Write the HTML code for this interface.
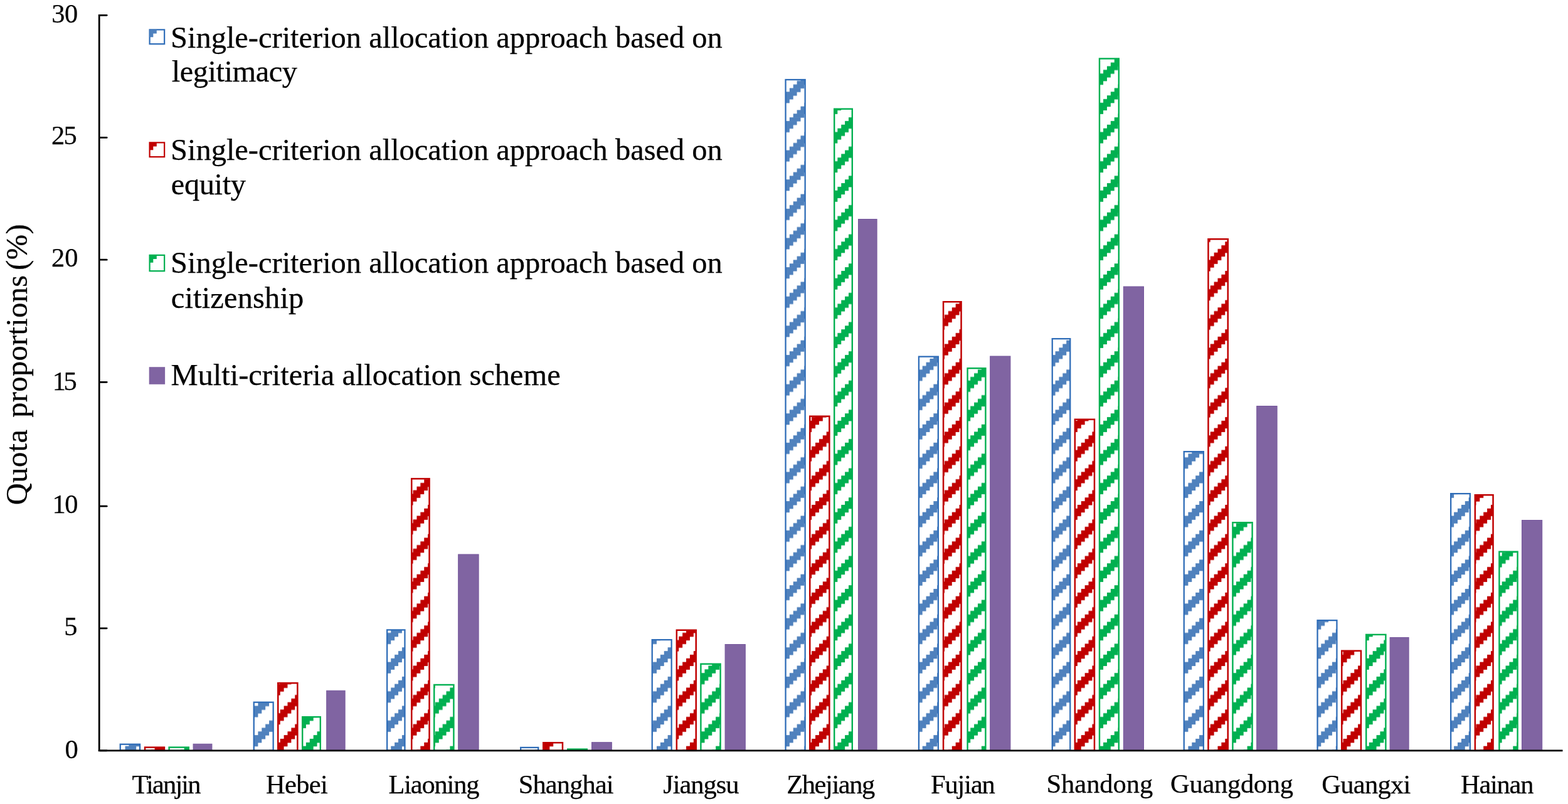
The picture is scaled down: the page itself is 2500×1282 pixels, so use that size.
<!DOCTYPE html><html><head><meta charset="utf-8"><title>Quota proportions</title>
<style>html,body{margin:0;padding:0;background:#fff}svg{display:block}text{font-family:"Liberation Serif",serif;fill:#000;stroke:#000;stroke-width:0.25px}</style></head><body>
<svg width="2500" height="1282" viewBox="0 0 2500 1282">
<defs>
<pattern id="pb" patternUnits="userSpaceOnUse" x="17.1" y="24.2" width="47.08" height="46.63"><rect width="47.08" height="46.63" fill="#fff"/><rect x="0.00" y="-6.13" width="17.66" height="6.43" fill="#4F81BD"/><rect x="47.08" y="-6.13" width="17.66" height="6.43" fill="#4F81BD"/><rect x="-5.88" y="-0.30" width="17.66" height="6.43" fill="#4F81BD"/><rect x="41.20" y="-0.30" width="17.66" height="6.43" fill="#4F81BD"/><rect x="-11.77" y="5.53" width="17.66" height="6.43" fill="#4F81BD"/><rect x="35.31" y="5.53" width="17.66" height="6.43" fill="#4F81BD"/><rect x="-17.66" y="11.36" width="17.66" height="6.43" fill="#4F81BD"/><rect x="29.42" y="11.36" width="17.66" height="6.43" fill="#4F81BD"/><rect x="23.54" y="17.19" width="17.66" height="6.43" fill="#4F81BD"/><rect x="17.66" y="23.02" width="17.66" height="6.43" fill="#4F81BD"/><rect x="11.77" y="28.84" width="17.66" height="6.43" fill="#4F81BD"/><rect x="5.88" y="34.67" width="17.66" height="6.43" fill="#4F81BD"/><rect x="0.00" y="40.50" width="17.66" height="6.43" fill="#4F81BD"/><rect x="47.08" y="40.50" width="17.66" height="6.43" fill="#4F81BD"/><rect x="-5.88" y="46.33" width="17.66" height="6.43" fill="#4F81BD"/><rect x="41.20" y="46.33" width="17.66" height="6.43" fill="#4F81BD"/></pattern>
<pattern id="pr" patternUnits="userSpaceOnUse" x="17.1" y="24.2" width="47.08" height="46.63"><rect width="47.08" height="46.63" fill="#fff"/><rect x="0.00" y="-6.13" width="17.66" height="6.43" fill="#C00000"/><rect x="47.08" y="-6.13" width="17.66" height="6.43" fill="#C00000"/><rect x="-5.88" y="-0.30" width="17.66" height="6.43" fill="#C00000"/><rect x="41.20" y="-0.30" width="17.66" height="6.43" fill="#C00000"/><rect x="-11.77" y="5.53" width="17.66" height="6.43" fill="#C00000"/><rect x="35.31" y="5.53" width="17.66" height="6.43" fill="#C00000"/><rect x="-17.66" y="11.36" width="17.66" height="6.43" fill="#C00000"/><rect x="29.42" y="11.36" width="17.66" height="6.43" fill="#C00000"/><rect x="23.54" y="17.19" width="17.66" height="6.43" fill="#C00000"/><rect x="17.66" y="23.02" width="17.66" height="6.43" fill="#C00000"/><rect x="11.77" y="28.84" width="17.66" height="6.43" fill="#C00000"/><rect x="5.88" y="34.67" width="17.66" height="6.43" fill="#C00000"/><rect x="0.00" y="40.50" width="17.66" height="6.43" fill="#C00000"/><rect x="47.08" y="40.50" width="17.66" height="6.43" fill="#C00000"/><rect x="-5.88" y="46.33" width="17.66" height="6.43" fill="#C00000"/><rect x="41.20" y="46.33" width="17.66" height="6.43" fill="#C00000"/></pattern>
<pattern id="pg" patternUnits="userSpaceOnUse" x="17.1" y="24.2" width="47.08" height="46.63"><rect width="47.08" height="46.63" fill="#fff"/><rect x="0.00" y="-6.13" width="17.66" height="6.43" fill="#00B050"/><rect x="47.08" y="-6.13" width="17.66" height="6.43" fill="#00B050"/><rect x="-5.88" y="-0.30" width="17.66" height="6.43" fill="#00B050"/><rect x="41.20" y="-0.30" width="17.66" height="6.43" fill="#00B050"/><rect x="-11.77" y="5.53" width="17.66" height="6.43" fill="#00B050"/><rect x="35.31" y="5.53" width="17.66" height="6.43" fill="#00B050"/><rect x="-17.66" y="11.36" width="17.66" height="6.43" fill="#00B050"/><rect x="29.42" y="11.36" width="17.66" height="6.43" fill="#00B050"/><rect x="23.54" y="17.19" width="17.66" height="6.43" fill="#00B050"/><rect x="17.66" y="23.02" width="17.66" height="6.43" fill="#00B050"/><rect x="11.77" y="28.84" width="17.66" height="6.43" fill="#00B050"/><rect x="5.88" y="34.67" width="17.66" height="6.43" fill="#00B050"/><rect x="0.00" y="40.50" width="17.66" height="6.43" fill="#00B050"/><rect x="47.08" y="40.50" width="17.66" height="6.43" fill="#00B050"/><rect x="-5.88" y="46.33" width="17.66" height="6.43" fill="#00B050"/><rect x="41.20" y="46.33" width="17.66" height="6.43" fill="#00B050"/></pattern>
</defs>
<rect width="2500" height="1282" fill="#fff"/>
<rect x="191.75" y="1186.75" width="31.30" height="10.05" fill="url(#pb)" stroke="#2F6DB8" stroke-width="2.3"/>
<rect x="231.05" y="1191.65" width="30.90" height="5.15" fill="url(#pr)" stroke="#C00000" stroke-width="2.5"/>
<rect x="269.60" y="1191.60" width="31.20" height="5.20" fill="url(#pg)" stroke="#00B050" stroke-width="2.4"/>
<rect x="308.10" y="1186.30" width="29.80" height="10.50" fill="#8064A2" stroke="#75569C" stroke-width="1.0"/>
<rect x="404.75" y="1119.75" width="30.90" height="77.05" fill="url(#pb)" stroke="#2F6DB8" stroke-width="2.3"/>
<rect x="443.25" y="1089.15" width="31.10" height="107.65" fill="url(#pr)" stroke="#C00000" stroke-width="2.5"/>
<rect x="482.20" y="1143.20" width="28.60" height="53.60" fill="url(#pg)" stroke="#00B050" stroke-width="2.4"/>
<rect x="520.70" y="1101.30" width="29.40" height="95.50" fill="#8064A2" stroke="#75569C" stroke-width="1.0"/>
<rect x="617.15" y="1004.40" width="28.30" height="192.40" fill="url(#pb)" stroke="#2F6DB8" stroke-width="2.3"/>
<rect x="656.25" y="763.35" width="28.30" height="433.45" fill="url(#pr)" stroke="#C00000" stroke-width="2.5"/>
<rect x="692.20" y="1091.95" width="31.20" height="104.85" fill="url(#pg)" stroke="#00B050" stroke-width="2.4"/>
<rect x="730.70" y="884.00" width="32.40" height="312.80" fill="#8064A2" stroke="#75569C" stroke-width="1.0"/>
<rect x="830.15" y="1191.95" width="28.10" height="4.85" fill="url(#pb)" stroke="#2F6DB8" stroke-width="2.3"/>
<rect x="866.25" y="1184.25" width="30.70" height="12.55" fill="url(#pr)" stroke="#C00000" stroke-width="2.5"/>
<rect x="905.20" y="1194.60" width="30.60" height="2.20" fill="url(#pg)" stroke="#00B050" stroke-width="2.4"/>
<rect x="943.50" y="1183.70" width="31.80" height="13.10" fill="#8064A2" stroke="#75569C" stroke-width="1.0"/>
<rect x="1039.75" y="1020.15" width="30.90" height="176.65" fill="url(#pb)" stroke="#2F6DB8" stroke-width="2.3"/>
<rect x="1078.85" y="1004.75" width="30.90" height="192.05" fill="url(#pr)" stroke="#C00000" stroke-width="2.5"/>
<rect x="1117.40" y="1058.70" width="31.20" height="138.10" fill="url(#pg)" stroke="#00B050" stroke-width="2.4"/>
<rect x="1156.10" y="1027.50" width="32.20" height="169.30" fill="#8064A2" stroke="#75569C" stroke-width="1.0"/>
<rect x="1252.55" y="127.05" width="31.10" height="1069.75" fill="url(#pb)" stroke="#2F6DB8" stroke-width="2.3"/>
<rect x="1291.25" y="663.75" width="31.10" height="533.05" fill="url(#pr)" stroke="#C00000" stroke-width="2.5"/>
<rect x="1330.20" y="173.70" width="28.60" height="1023.10" fill="url(#pg)" stroke="#00B050" stroke-width="2.4"/>
<rect x="1368.50" y="349.50" width="29.60" height="847.30" fill="#8064A2" stroke="#75569C" stroke-width="1.0"/>
<rect x="1464.95" y="568.65" width="30.90" height="628.15" fill="url(#pb)" stroke="#2F6DB8" stroke-width="2.3"/>
<rect x="1504.05" y="481.25" width="28.50" height="715.55" fill="url(#pr)" stroke="#C00000" stroke-width="2.5"/>
<rect x="1542.60" y="587.20" width="28.80" height="609.60" fill="url(#pg)" stroke="#00B050" stroke-width="2.4"/>
<rect x="1578.70" y="568.00" width="32.20" height="628.80" fill="#8064A2" stroke="#75569C" stroke-width="1.0"/>
<rect x="1677.75" y="540.15" width="28.50" height="656.65" fill="url(#pb)" stroke="#2F6DB8" stroke-width="2.3"/>
<rect x="1713.85" y="668.75" width="31.10" height="528.05" fill="url(#pr)" stroke="#C00000" stroke-width="2.5"/>
<rect x="1753.00" y="93.50" width="30.80" height="1103.30" fill="url(#pg)" stroke="#00B050" stroke-width="2.4"/>
<rect x="1791.30" y="457.00" width="32.20" height="739.80" fill="#8064A2" stroke="#75569C" stroke-width="1.0"/>
<rect x="1887.75" y="720.15" width="31.10" height="476.65" fill="url(#pb)" stroke="#2F6DB8" stroke-width="2.3"/>
<rect x="1926.45" y="381.25" width="31.30" height="815.55" fill="url(#pr)" stroke="#C00000" stroke-width="2.5"/>
<rect x="1965.40" y="833.20" width="31.20" height="363.60" fill="url(#pg)" stroke="#00B050" stroke-width="2.4"/>
<rect x="2003.70" y="647.50" width="32.40" height="549.30" fill="#8064A2" stroke="#75569C" stroke-width="1.0"/>
<rect x="2100.55" y="989.15" width="30.90" height="207.65" fill="url(#pb)" stroke="#2F6DB8" stroke-width="2.3"/>
<rect x="2139.25" y="1037.75" width="30.70" height="159.05" fill="url(#pr)" stroke="#C00000" stroke-width="2.5"/>
<rect x="2178.20" y="1011.90" width="31.20" height="184.90" fill="url(#pg)" stroke="#00B050" stroke-width="2.4"/>
<rect x="2216.10" y="1016.50" width="30.00" height="180.30" fill="#8064A2" stroke="#75569C" stroke-width="1.0"/>
<rect x="2313.15" y="787.15" width="30.70" height="409.65" fill="url(#pb)" stroke="#2F6DB8" stroke-width="2.3"/>
<rect x="2351.85" y="789.25" width="28.70" height="407.55" fill="url(#pr)" stroke="#C00000" stroke-width="2.5"/>
<rect x="2390.40" y="879.70" width="29.20" height="317.10" fill="url(#pg)" stroke="#00B050" stroke-width="2.4"/>
<rect x="2426.50" y="829.50" width="32.20" height="367.30" fill="#8064A2" stroke="#75569C" stroke-width="1.0"/>
<path d="M158.2 23.0V1198.1" stroke="#000" stroke-width="2.8" fill="none"/>
<path d="M156.79999999999998 1196.8H2491.5" stroke="#000" stroke-width="2.8" fill="none"/>
<path d="M159.2 24.30H170.2" stroke="#000" stroke-width="2.8" stroke-linecap="round" fill="none"/>
<path d="M159.2 219.40H170.2" stroke="#000" stroke-width="2.8" stroke-linecap="round" fill="none"/>
<path d="M159.2 414.20H170.2" stroke="#000" stroke-width="2.8" stroke-linecap="round" fill="none"/>
<path d="M159.2 609.30H170.2" stroke="#000" stroke-width="2.8" stroke-linecap="round" fill="none"/>
<path d="M159.2 807.20H170.2" stroke="#000" stroke-width="2.8" stroke-linecap="round" fill="none"/>
<path d="M159.2 1001.80H170.2" stroke="#000" stroke-width="2.8" stroke-linecap="round" fill="none"/>
<path d="M159.2 1196.80H170.2" stroke="#000" stroke-width="2.8" stroke-linecap="round" fill="none"/>
<text x="103.38" y="1208.50" font-size="42.5">0</text>
<text x="102.20" y="1013.30" font-size="42.5">5</text>
<text x="83.50" y="817.50" font-size="42.5" letter-spacing="-1.500">10</text>
<text x="83.70" y="621.50" font-size="42.5" letter-spacing="-3.500">15</text>
<text x="82.05" y="425.30" font-size="42.5" letter-spacing="-0.150">20</text>
<text x="82.05" y="229.90" font-size="42.5" letter-spacing="-1.800">25</text>
<text x="82.20" y="35.70" font-size="42.5" letter-spacing="-0.400">30</text>
<text x="210.50" y="1265.30" font-size="42.5" letter-spacing="-1.875">Tianjin</text>
<text x="424.00" y="1265.30" font-size="42.5" letter-spacing="-0.688">Hebei</text>
<text x="619.50" y="1265.30" font-size="42.5" letter-spacing="-1.214">Liaoning</text>
<text x="826.75" y="1264.80" font-size="42.5" letter-spacing="-0.893">Shanghai</text>
<text x="1057.25" y="1265.30" font-size="42.5" letter-spacing="-1.042">Jiangsu</text>
<text x="1254.25" y="1265.30" font-size="42.5" letter-spacing="-1.429">Zhejiang</text>
<text x="1484.00" y="1265.30" font-size="42.5" letter-spacing="-1.150">Fujian</text>
<text x="1668.50" y="1263.80" font-size="42.5" letter-spacing="-0.036">Shandong</text>
<text x="1866.00" y="1263.80" font-size="42.5" letter-spacing="-0.281">Guangdong</text>
<text x="2107.25" y="1265.30" font-size="42.5" letter-spacing="-0.708">Guangxi</text>
<text x="2329.00" y="1265.30" font-size="42.5" letter-spacing="-1.250">Hainan</text>
<text x="272.05" y="76.00" font-size="48.5" letter-spacing="-0.022">Single-criterion allocation approach based on</text>
<text x="273.75" y="130.00" font-size="48.5" letter-spacing="-0.500">legitimacy</text>
<text x="272.05" y="255.00" font-size="48.5" letter-spacing="-0.022">Single-criterion allocation approach based on</text>
<text x="272.75" y="310.00" font-size="48.5" letter-spacing="-0.400">equity</text>
<text x="272.05" y="435.10" font-size="48.5" letter-spacing="-0.022">Single-criterion allocation approach based on</text>
<text x="272.75" y="491.20" font-size="48.5" letter-spacing="0.150">citizenship</text>
<text x="272.50" y="613.80" font-size="48.5" letter-spacing="-0.032">Multi-criteria allocation scheme</text>
<text transform="translate(42.50 0) rotate(-90)" y="0" font-size="48.5"><tspan x="-805.25" letter-spacing="0.438">Quota</tspan> <tspan x="-665.75" letter-spacing="0.330">proportions</tspan> <tspan x="-430.70" letter-spacing="0.300">(%)</tspan></text>
<rect x="238.6" y="47.35" width="23.55" height="22.8" fill="#fff" stroke="#2F6DB8" stroke-width="2.2"/>
<path d="M238.5 47.25H249.8V53.45H244.3V59.25H238.5Z" fill="#4F81BD"/>
<rect x="238.6" y="227.35" width="23.55" height="22.8" fill="#fff" stroke="#C00000" stroke-width="2.2"/>
<path d="M238.5 227.25H249.8V233.45H244.3V239.25H238.5Z" fill="#C00000"/>
<rect x="238.6" y="406.85" width="23.55" height="25.3" fill="#fff" stroke="#00B050" stroke-width="2.2"/>
<path d="M238.5 406.75H249.8V412.95H244.3V418.75H238.5Z" fill="#00B050"/>
<rect x="237.7" y="585.2" width="25.4" height="27.6" fill="#8064A2"/>
</svg></body></html>
